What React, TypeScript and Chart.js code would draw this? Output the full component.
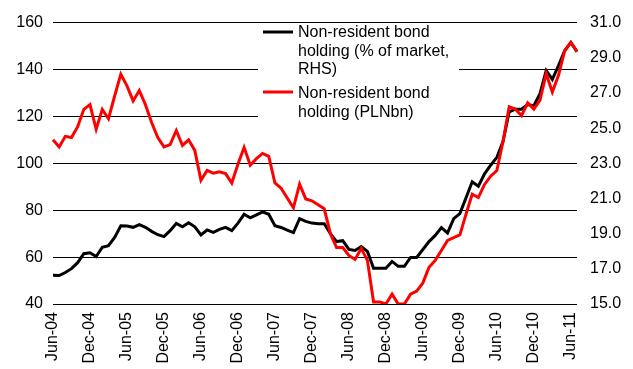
import React, { useEffect, useRef } from 'react';
import { Chart, registerables } from 'chart.js';

Chart.register(...registerables);

const months: string[] = [
  'Jun-04','Jul-04','Aug-04','Sep-04','Oct-04','Nov-04','Dec-04',
  'Jan-05','Feb-05','Mar-05','Apr-05','May-05','Jun-05','Jul-05','Aug-05','Sep-05','Oct-05','Nov-05','Dec-05',
  'Jan-06','Feb-06','Mar-06','Apr-06','May-06','Jun-06','Jul-06','Aug-06','Sep-06','Oct-06','Nov-06','Dec-06',
  'Jan-07','Feb-07','Mar-07','Apr-07','May-07','Jun-07','Jul-07','Aug-07','Sep-07','Oct-07','Nov-07','Dec-07',
  'Jan-08','Feb-08','Mar-08','Apr-08','May-08','Jun-08','Jul-08','Aug-08','Sep-08','Oct-08','Nov-08','Dec-08',
  'Jan-09','Feb-09','Mar-09','Apr-09','May-09','Jun-09','Jul-09','Aug-09','Sep-09','Oct-09','Nov-09','Dec-09',
  'Jan-10','Feb-10','Mar-10','Apr-10','May-10','Jun-10','Jul-10','Aug-10','Sep-10','Oct-10','Nov-10','Dec-10',
  'Jan-11','Feb-11','Mar-11','Apr-11','May-11','Jun-11','Jul-11',
];

// Non-resident bond holding (PLNbn), left axis
const holdingPLNbn: number[] = [
  110, 107, 111.5, 111, 115.6, 123, 125, 114.5, 123, 119,
  128.7, 138, 133, 126.6, 131, 125, 117.4, 111, 107, 108,
  114, 107.6, 110, 105.5, 92.8, 97, 95.8, 96.4, 95.6, 91.6,
  99.6, 106.8, 99.2, 102, 104.2, 103, 91.6, 89.4, 85.2, 81,
  91.1, 84.8, 84, 82.3, 80.6, 70, 64.1, 64.1, 60.7, 59,
  63.7, 58.6, 40.9, 40.9, 40, 44.2, 40, 40, 44.2, 45.5,
  49, 55.7, 58.6, 62.8, 67.1, 68.3, 69.5, 78.3, 86.8, 85.4,
  91, 94.5, 96.9, 109.3, 124.1, 123.1, 120.3, 125.8, 123.1, 126.9,
  138.2, 130.4, 137.5, 148, 151.6, 147.6,
];

// Non-resident bond holding (% of market), right axis
const holdingPctMarket: number[] = [
  16.63, 16.62, 16.79, 17.01, 17.35, 17.86, 17.91, 17.7, 18.23, 18.32,
  18.79, 19.45, 19.43, 19.36, 19.51, 19.36, 19.13, 18.94, 18.83, 19.17,
  19.58, 19.39, 19.62, 19.39, 18.93, 19.21, 19.07, 19.24, 19.36, 19.17,
  19.6, 20.1, 19.9, 20.07, 20.24, 20.1, 19.45, 19.35, 19.2, 19.06,
  19.85, 19.7, 19.6, 19.56, 19.56, 19.0, 18.55, 18.6, 18.1, 18.04,
  18.27, 17.99, 17.03, 17.03, 17.03, 17.42, 17.14, 17.14, 17.65, 17.65,
  18.1, 18.55, 18.9, 19.34, 19.04, 19.85, 20.14, 21.04, 21.95, 21.7,
  22.4, 22.89, 23.34, 24.24, 25.93, 26.08, 26.08, 26.34, 26.27, 26.96,
  28.28, 27.77, 28.56, 29.4, 29.87, 29.35,
];

const legendBlack: string[] = ['Non-resident bond', 'holding (% of market,', 'RHS)'];
const legendRed: string[] = ['Non-resident bond', 'holding (PLNbn)'];

const FONT = '"Liberation Sans", Arial, Helvetica, sans-serif';

const legendPlugin = {
  id: 'boxLegend',
  beforeDatasetsDraw(chart: any) {
    const ctx = chart.ctx;
    ctx.save();
    ctx.fillStyle = '#ffffff';
    ctx.fillRect(258, 24, 201, 100);
    ctx.restore();
  },
  afterDatasetsDraw(chart: any) {
    const ctx = chart.ctx;
    ctx.save();
    ctx.font = `16px ${FONT}`;
    ctx.textBaseline = 'middle';
    ctx.textAlign = 'left';
    ctx.lineWidth = 3;
    // black entry
    ctx.strokeStyle = '#000000';
    ctx.beginPath();
    ctx.moveTo(263, 32);
    ctx.lineTo(293, 32);
    ctx.stroke();
    ctx.fillStyle = '#000000';
    legendBlack.forEach((t, i) => ctx.fillText(t, 298, 33 + i * 18.5));
    // red entry
    ctx.strokeStyle = '#ff0000';
    ctx.beginPath();
    ctx.moveTo(263, 92);
    ctx.lineTo(293, 92);
    ctx.stroke();
    legendRed.forEach((t, i) => ctx.fillText(t, 298, 94 + i * 18.5));
    ctx.restore();
  },
};

export default function App() {
  const canvasRef = useRef<HTMLCanvasElement | null>(null);

  useEffect(() => {
    if (!canvasRef.current) return;
    Chart.defaults.font.family = FONT;
    Chart.defaults.font.size = 16;
    Chart.defaults.color = '#000000';

    const chart = new Chart(canvasRef.current, {
      type: 'line',
      data: {
        labels: months,
        datasets: [
          {
            label: 'Non-resident bond holding (PLNbn)',
            data: holdingPLNbn,
            yAxisID: 'y',
            borderColor: '#ff0000',
            backgroundColor: '#ff0000',
            borderWidth: 3,
            pointRadius: 0,
            tension: 0,
            order: 0,
          },
          {
            label: 'Non-resident bond holding (% of market, RHS)',
            data: holdingPctMarket,
            yAxisID: 'y1',
            borderColor: '#000000',
            backgroundColor: '#000000',
            borderWidth: 3,
            pointRadius: 0,
            tension: 0,
            order: 1,
          },
        ],
      },
      options: {
        responsive: false,
        animation: false,
        devicePixelRatio: 1,
        layout: { padding: { top: 20, left: 0, right: 0, bottom: 0 } },
        plugins: {
          legend: { display: false },
          tooltip: { enabled: false },
        },
        scales: {
          x: {
            type: 'category',
            offset: false,
            grid: { display: false, drawTicks: false },
            border: { display: false },
            ticks: {
              autoSkip: false,
              minRotation: 90,
              maxRotation: 90,
              padding: 8,
              font: { size: 16, family: FONT },
              color: '#000000',
              callback: (_v: any, i: number) => (i % 6 === 0 ? months[i] : ''),
            },
            afterFit: (s: any) => { s.height = 65; },
          },
          y: {
            position: 'left',
            min: 40,
            max: 160,
            grid: { color: '#000000', lineWidth: 1, drawTicks: false },
            border: { display: false },
            ticks: {
              stepSize: 20,
              padding: 10,
              font: { size: 16, family: FONT },
              color: '#000000',
            },
            afterFit: (s: any) => { s.width = 53; },
          },
          y1: {
            position: 'right',
            min: 15,
            max: 31,
            grid: { display: false, drawTicks: false },
            border: { display: false },
            ticks: {
              stepSize: 2,
              padding: 13,
              font: { size: 16, family: FONT },
              color: '#000000',
              callback: (v: any) => Number(v).toFixed(1),
            },
            afterFit: (s: any) => { s.width = 56; },
          },
        },
      },
      plugins: [legendPlugin],
    } as any);

    return () => chart.destroy();
  }, []);

  return (
    <div style={{ position: 'absolute', left: 0, top: 0, width: 633, height: 369, background: '#fff' }}>
      <canvas ref={canvasRef} width={633} height={369} style={{ width: 633, height: 369, display: 'block' }} />
    </div>
  );
}
